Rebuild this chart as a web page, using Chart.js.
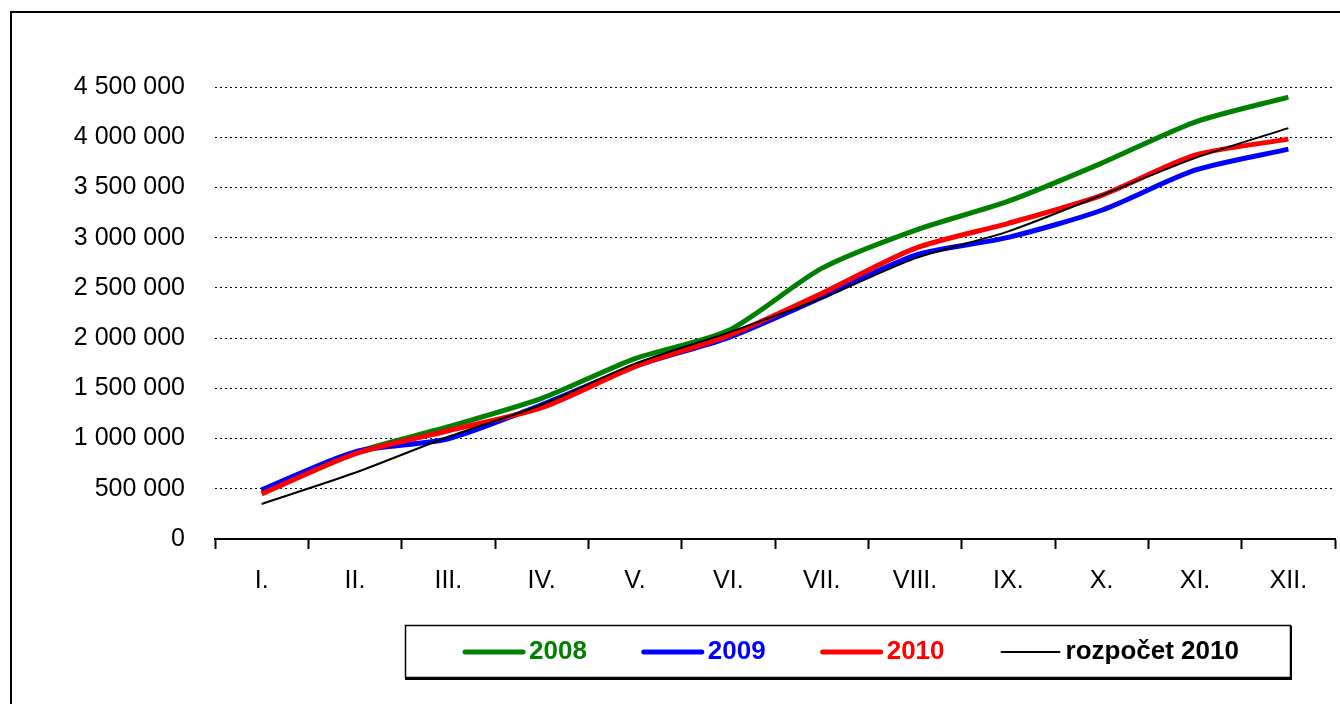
<!DOCTYPE html>
<html>
<head>
<meta charset="utf-8">
<title>Plnění 2008 - 2010</title>
<script src="https://cdn.jsdelivr.net/npm/chart.js@4.4.1/dist/chart.umd.min.js"></script>
<style>
    html, body { margin: 0; padding: 0; background: #fff; }
</style>
</head>
<body>
<canvas id="chart" width="1340" height="704"></canvas>
<script>
// Data (cumulative, by month)
const months = ['I.', 'II.', 'III.', 'IV.', 'V.', 'VI.', 'VII.', 'VIII.', 'IX.', 'X.', 'XI.', 'XII.'];
const values2008 = [470000, 860000, 1118000, 1400000, 1796000, 2075000, 2694000, 3073000, 3363000, 3742000, 4151000, 4400000];
const values2009 = [489000, 868000, 998000, 1337000, 1720000, 2005000, 2405000, 2824000, 3003000, 3273000, 3672000, 3881000];
const values2010 = [449000, 848000, 1078000, 1307000, 1716000, 2025000, 2445000, 2894000, 3143000, 3422000, 3822000, 3981000];
const budget2010 = [349000, 659000, 1018000, 1337000, 1746000, 2055000, 2395000, 2794000, 3063000, 3422000, 3792000, 4091000];
const yTicks = [0, 500000, 1000000, 1500000, 2000000, 2500000, 3000000, 3500000, 4000000, 4500000];

const FONT = '"Liberation Sans", Arial, sans-serif';
Chart.defaults.font.family = FONT;
Chart.defaults.color = '#000';

function formatNumber(v) {
    return String(v).replace(/\B(?=(\d{3})+(?!\d))/g, ' ');
}

// outer frame of the picture
const frame = {
    id: 'frame',
    beforeDraw(chart) {
        const ctx = chart.ctx;
        ctx.save();
        ctx.strokeStyle = '#000';
        ctx.lineWidth = 2;
        ctx.strokeRect(11, 12, 1500, 900);
        ctx.restore();
    }
};

// boxed legend under the plot
const legendBox = {
    id: 'legendBox',
    afterDraw(chart) {
        const ctx = chart.ctx;
        ctx.save();
        ctx.strokeStyle = '#000';
        ctx.lineWidth = 1.5;
        ctx.strokeRect(405.5, 625.5, 885, 52);
        ctx.fillStyle = '#000';
        ctx.fillRect(405, 677, 887, 3);
        ctx.fillRect(1290, 626, 2, 54);

        ctx.font = 'bold 26px ' + FONT;
        ctx.textBaseline = 'middle';
        let x = 465;
        const y = 652;
        chart.data.datasets.forEach(ds => {
            ctx.strokeStyle = ds.borderColor;
            ctx.lineWidth = ds.borderWidth;
            ctx.lineCap = 'round';
            ctx.beginPath();
            ctx.moveTo(x, y);
            ctx.lineTo(x + 58, y);
            ctx.stroke();
            ctx.fillStyle = ds.borderColor;
            ctx.fillText(ds.label, x + 64, y);
            x += 64 + ctx.measureText(ds.label).width + 57;
        });
        ctx.restore();
    }
};

function makeSeries(label, data, color, width, order) {
    return {
        label: label,
        data: data,
        borderColor: color,
        backgroundColor: color,
        borderWidth: width,
        pointRadius: 0,
        tension: 0.25,
        fill: false,
        order: order
    };
}

new Chart(document.getElementById('chart'), {
    type: 'line',
    data: {
        labels: months,
        datasets: [
            makeSeries('2008', values2008, '#008000', 5, 3),
            makeSeries('2009', values2009, '#0000ff', 5, 2),
            makeSeries('2010', values2010, '#ff0000', 5, 1),
            makeSeries('rozpočet 2010', budget2010, '#000000', 2, 0)
        ]
    },
    options: {
        responsive: false,
        animation: false,
        layout: { padding: { left: 0, top: 87, right: 5, bottom: 91 } },
        plugins: {
            legend: { display: false },
            tooltip: { enabled: false }
        },
        scales: {
            x: {
                offset: true,
                grid: {
                    offset: true,
                    drawOnChartArea: false,
                    drawTicks: true,
                    tickLength: 10,
                    tickWidth: 2,
                    tickColor: '#000'
                },
                border: { display: true, color: '#000', width: 2 },
                ticks: { padding: 17, font: { size: 25 }, color: '#000', maxRotation: 0 }
            },
            y: {
                min: 0,
                max: 4500000,
                afterFit(scale) { scale.width = 215; },
                afterBuildTicks(scale) { scale.ticks = yTicks.map(v => ({ value: v })); },
                grid: { drawTicks: false, color: '#000', lineWidth: 1 },
                border: { display: false, dash: [2, 3] },
                ticks: {
                    padding: 30,
                    font: { size: 25 },
                    color: '#000',
                    callback: v => formatNumber(v)
                }
            }
        }
    },
    plugins: [frame, legendBox]
});
</script>
</body>
</html>
